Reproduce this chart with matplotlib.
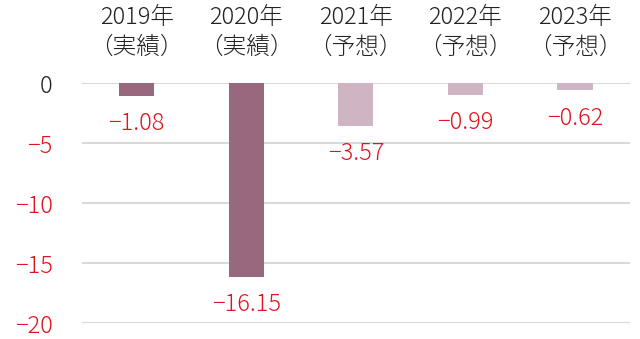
import matplotlib

matplotlib.use("Agg")
import matplotlib.pyplot as plt
import numpy as np

plt.rcParams["font.family"] = ["Noto Sans CJK JP", "DejaVu Sans"]
plt.rcParams["font.weight"] = "light"

years = ["2019年", "2020年", "2021年", "2022年", "2023年"]
kinds = ["（実績）", "（実績）", "（予想）", "（予想）", "（予想）"]
values = [-1.08, -16.15, -3.57, -0.99, -0.62]
actual = [True, True, False, False, False]

dark = "#98687F"
light = "#CFB5C3"
red = "#E0141E"

fig = plt.figure(figsize=(6.4, 3.39), dpi=100)
ax = fig.add_axes([0.128, 0.047, 0.856, 0.708])

x = np.arange(len(values))
colors = [dark if a else light for a in actual]
ax.bar(x, values, width=0.32, color=colors, zorder=3)

for xi, v in zip(x, values):
    ax.annotate(f"{v:.2f}".replace("-", "\u2212"), (xi, v),
                textcoords="offset points", xytext=(0, -20),
                ha="center", va="center", fontsize=17, color=red)

ax.set_xlim(-0.5, len(values) - 0.5)
ax.set_ylim(-20, 0)
ax.set_yticks([0, -5, -10, -15, -20])
ax.set_yticklabels(["0", "\u22125", "\u221210", "\u221215", "\u221220"], fontsize=17)
for lab, t in zip(ax.get_yticklabels(), [0, -5, -10, -15, -20]):
    lab.set_color("#222222" if t == 0 else red)

ax.xaxis.tick_top()
ax.set_xticks(x)
ax.set_xticklabels([f"{y}\n{k}" for y, k in zip(years, kinds)],
                   fontsize=17, color="#222222", linespacing=1.25)

ax.tick_params(axis="both", length=0)
ax.tick_params(axis="y", pad=21)
ax.tick_params(axis="x", pad=17)
ax.grid(axis="y", color="#D9D9D9", linewidth=1.5, zorder=0)
for s in ax.spines.values():
    s.set_visible(False)

plt.savefig("out.png", dpi=100)
